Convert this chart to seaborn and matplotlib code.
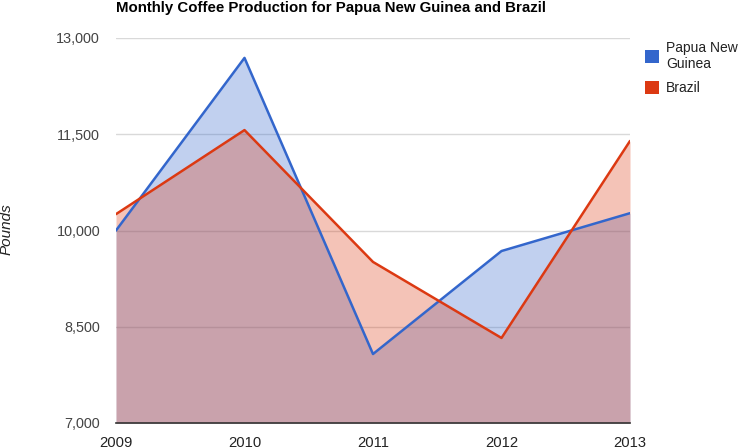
import matplotlib
matplotlib.use("Agg")
import matplotlib.pyplot as plt
import seaborn as sns
import pandas as pd
from matplotlib.patches import Patch

years = [2009, 2010, 2011, 2012, 2013]
png_values = [10000, 12690, 8075, 9680, 10270]
brazil_values = [10255, 11565, 9510, 8325, 11395]
series_names = ["Papua New Guinea", "Brazil"]
legend_labels = ["Papua New\nGuinea", "Brazil"]
y_ticks = [7000, 8500, 10000, 11500, 13000]

colors = ["#3366CC", "#DC3912"]

df = pd.DataFrame({
    "Year": years * 2,
    "Pounds": png_values + brazil_values,
    "Series": [series_names[0]] * len(years) + [series_names[1]] * len(years),
})

sns.set_style("white")
plt.rcParams["font.family"] = ["Liberation Sans", "DejaVu Sans"]

fig = plt.figure(figsize=(7.42, 4.48), dpi=100)
ax = fig.add_axes([116 / 742, 1 - 423 / 448, (630 - 116) / 742, (423 - 38) / 448])

for name, col in zip(series_names, colors):
    sub = df[df["Series"] == name]
    ax.fill_between(sub["Year"], sub["Pounds"], 7000, color=col, alpha=0.3, linewidth=0, zorder=1)

sns.lineplot(data=df, x="Year", y="Pounds", hue="Series", palette=colors,
             ax=ax, linewidth=1.8, legend=False, zorder=3)

ax.set_xlim(2009, 2013)
ax.set_ylim(7000, 13000)
ax.set_yticks(y_ticks)
ax.set_yticklabels([f"{v:,}" for v in y_ticks])
ax.set_xticks(years)
ax.set_xticklabels([str(y) for y in years])
ax.grid(axis="y", color="#D9D9D9", linewidth=1, zorder=0)
ax.set_axisbelow(True)
for s in ["top", "right", "left"]:
    ax.spines[s].set_visible(False)
ax.spines["bottom"].set_color("#333333")
ax.spines["bottom"].set_linewidth(1.2)
ax.spines["bottom"].set_zorder(4)
ax.tick_params(axis="y", length=0, pad=11.5, labelsize=10.4, labelcolor="#444444")
ax.tick_params(axis="x", length=0, pad=9, labelsize=10.6, labelcolor="#222222")

ax.set_xlabel("")
ax.set_ylabel("")
fig.text(7 / 742, 1 - 229 / 448, "Pounds", rotation=90, fontstyle="italic", fontsize=11,
         color="#222222", ha="center", va="center")

fig.text(116 / 742, 1 - 8 / 448, "Monthly Coffee Production for Papua New Guinea and Brazil",
         fontsize=10.8, fontweight="bold", ha="left", va="center", color="#000000")

handles = [Patch(facecolor=c, edgecolor="none") for c in colors]
fig.legend(handles, legend_labels, loc="upper left", bbox_to_anchor=(632 / 742, 1 - 28 / 448),
           frameon=False, fontsize=10, handlelength=1.05, handleheight=1.05, handletextpad=0.5,
           labelspacing=0.75, labelcolor="#222222")

fig.savefig("out.png", dpi=100)
